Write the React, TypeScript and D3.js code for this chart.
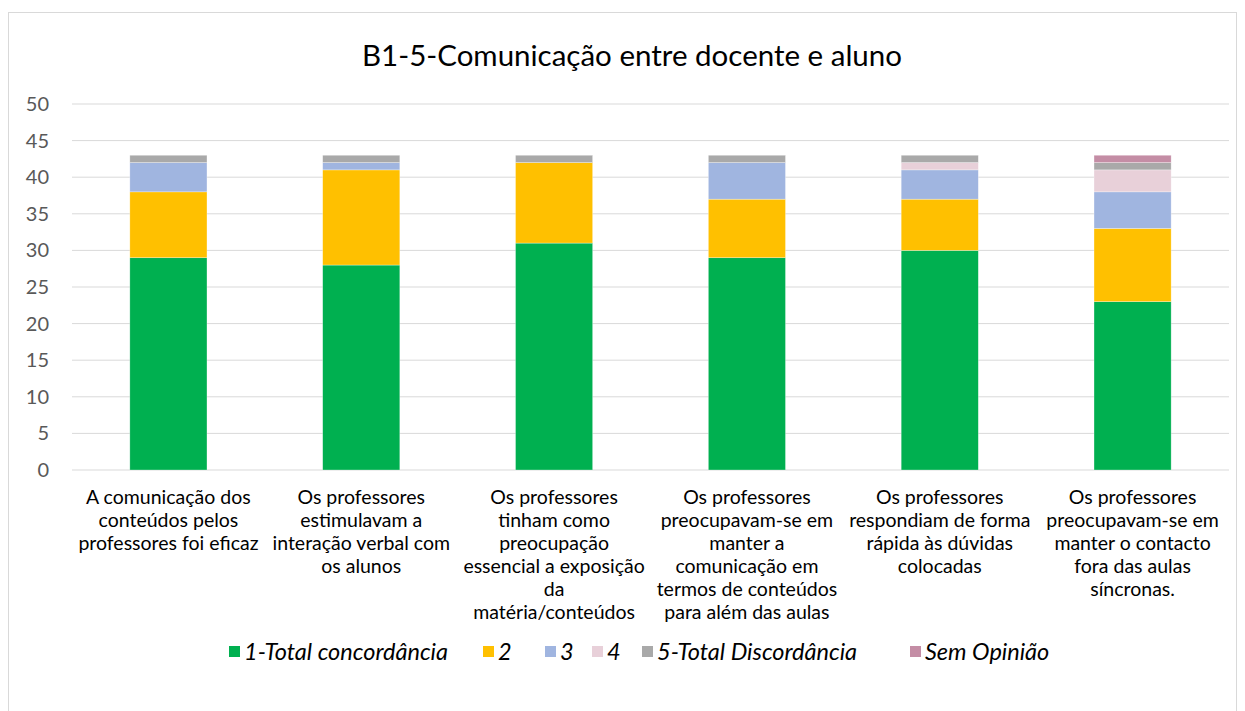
import React from "react";
import * as d3 from "d3";

const categories: string[][] = [
  ["A comunicação dos", "conteúdos pelos", "professores foi eficaz"],
  ["Os professores", "estimulavam a", "interação verbal com", "os alunos"],
  ["Os professores", "tinham como", "preocupação", "essencial a exposição", "da", "matéria/conteúdos"],
  ["Os professores", "preocupavam-se em", "manter a", "comunicação em", "termos de conteúdos", "para além das aulas"],
  ["Os professores", "respondiam de forma", "rápida às dúvidas", "colocadas"],
  ["Os professores", "preocupavam-se em", "manter o contacto", "fora das aulas", "síncronas."],
];

const seriesNames = ["1-Total concordância", "2", "3", "4", "5-Total Discordância", "Sem Opinião"];
const seriesColors = ["#00B050", "#FFC000", "#A0B5E0", "#E8D0D9", "#A9A9A9", "#C48DA5"];

const s1 = [29, 28, 31, 29, 30, 23];
const s2 = [9, 13, 11, 8, 7, 10];
const s3 = [4, 1, 0, 5, 4, 5];
const s4 = [0, 0, 0, 0, 1, 3];
const s5 = [1, 1, 1, 1, 1, 1];
const s6 = [0, 0, 0, 0, 0, 1];
const yTicks = [0, 5, 10, 15, 20, 25, 30, 35, 40, 45, 50];

const W = 1245;
const H = 711;
const FONT = "Lato, 'Open Sans', sans-serif";

export default function App() {
  const seriesValues = [s1, s2, s3, s4, s5, s6];
  const rows = categories.map((_, i) => {
    const r: Record<string, number> = {};
    seriesNames.forEach((n, k) => (r[n] = seriesValues[k][i]));
    return r;
  });
  const stack = d3.stack<Record<string, number>>().keys(seriesNames)(rows);

  const plotL = 72, plotR = 1229, plotT = 104, plotB = 470;
  const x = d3.scaleBand<number>().domain(categories.map((_, i) => i)).range([plotL, plotR]).paddingInner(0.6).paddingOuter(0.3);
  const y = d3.scaleLinear().domain([0, 50]).range([plotB, plotT]);

  const legendX = [229, 483, 545, 592, 642, 910];

  return (
    <svg width={W} height={H} style={{ position: "absolute", left: 0, top: 0, background: "#fff" }} fontFamily={FONT}>
      <rect x={8.5} y={12.5} width={1228} height={720} fill="#fff" stroke="#d9d9d9" strokeWidth={1} />
      <text x={632} y={56} dy="0.35em" textAnchor="middle" fontSize={29.5} fill="#000">B1-5-Comunicação entre docente e aluno</text>
      {yTicks.map((t) => (
        <g key={t}>
          <line x1={plotL} x2={plotR} y1={y(t)} y2={y(t)} stroke="#d9d9d9" strokeWidth={1} />
          <text x={49} y={y(t)} dy="0.35em" textAnchor="end" fontSize={20} fill="#595959">{t}</text>
        </g>
      ))}
      {stack.map((layer, k) => (
        <g key={k} fill={seriesColors[k]}>
          {layer.map((d, i) =>
            d[1] - d[0] > 0 ? (
              <rect key={i} x={x(i)} y={y(d[1])} width={x.bandwidth()} height={y(d[0]) - y(d[1])} stroke="#ffffff" strokeOpacity={0.5} strokeWidth={0.6} />
            ) : null
          )}
        </g>
      ))}
      {categories.map((lines, i) => (
        <text key={i} textAnchor="middle" fontSize={19.5} fill="#000">
          {lines.map((ln, j) => (
            <tspan key={j} x={(x(i) ?? 0) + x.bandwidth() / 2} y={497 + j * 23} dy="0.35em">{ln}</tspan>
          ))}
        </text>
      ))}
      {seriesNames.map((n, k) => (
        <g key={n}>
          <rect x={legendX[k]} y={646} width={11} height={11} fill={seriesColors[k]} />
          <text x={legendX[k] + 15} y={652} dy="0.35em" fontSize={23.5} fontStyle="italic" fill="#000">{n}</text>
        </g>
      ))}
    </svg>
  );
}
